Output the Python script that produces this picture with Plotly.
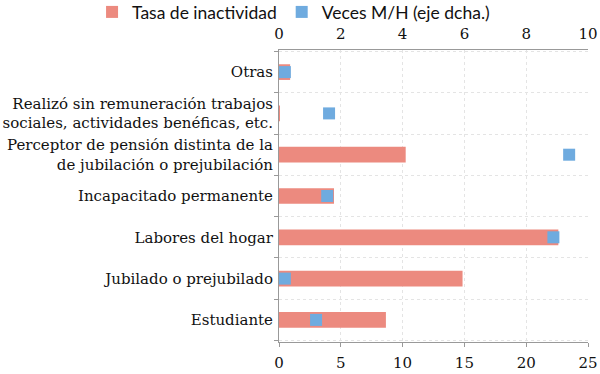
import plotly.graph_objects as go

categories = [
    "Estudiante",
    "Jubilado o prejubilado",
    "Labores del hogar",
    "Incapacitado permanente",
    "Perceptor de pensión distinta de la<br>de jubilación o prejubilación",
    "Realizó sin remuneración trabajos<br>sociales, actividades benéficas, etc.",
    "Otras",
]
tasa_inactividad = [8.65, 14.85, 22.6, 4.45, 10.25, 0.05, 0.9]
veces_mh = [1.2, 0.19, 8.88, 1.56, 9.39, 1.62, 0.19]

bottom_ticks = [0, 5, 10, 15, 20, 25]
top_ticks = [0, 2, 4, 6, 8, 10]

bar_color = "#EC8A7F"
marker_color = "#6FABDF"
serif = "DejaVu Serif"
sans = "Lato"

fig = go.Figure()
fig.add_trace(go.Bar(
    y=categories, x=tasa_inactividad, orientation="h",
    name="Tasa de inactividad", marker=dict(color=bar_color, line=dict(width=0)),
    xaxis="x",
))
fig.add_trace(go.Scatter(
    y=categories, x=veces_mh, mode="markers",
    name="Veces M/H (eje dcha.)",
    marker=dict(symbol="square", size=12, color=marker_color),
    xaxis="x2", cliponaxis=False,
))

fig.update_layout(
    width=600, height=374,
    margin=dict(l=279, r=12, t=50, b=32, autoexpand=False),
    paper_bgcolor="white", plot_bgcolor="white",
    bargap=0.62,
    showlegend=True,
    legend=dict(
        orientation="h", xref="paper", yref="paper",
        x=-0.605, xanchor="left", y=1.13, yanchor="middle",
        font=dict(family=sans, size=17.5, color="#111"),
        itemclick=False, traceorder="normal",
        bgcolor="rgba(0,0,0,0)",
    ),
    xaxis=dict(
        range=[0, 25], tickvals=bottom_ticks, ticktext=[str(v) for v in bottom_ticks],
        showgrid=True, gridcolor="#E4E4E4", griddash="dot", gridwidth=1,
        showline=True, linecolor="#999", linewidth=1,
        ticks="outside", ticklen=4, tickcolor="#999",
        tickfont=dict(family=serif, size=15, color="#111"),
        ticklabelstandoff=3,
        zeroline=False, fixedrange=True,
    ),
    xaxis2=dict(
        range=[0, 10], tickvals=top_ticks, ticktext=[str(v) for v in top_ticks],
        overlaying="x", side="top", anchor="y",
        showgrid=False, showline=True, linecolor="#999", linewidth=1,
        ticks="", tickfont=dict(family=serif, size=15, color="#111"),
        ticklabelstandoff=4,
        zeroline=False, fixedrange=True,
    ),
    yaxis=dict(
        type="category", categoryorder="array", categoryarray=categories,
        tickson="boundaries", ticks="outside", ticklen=4, tickcolor="#999",
        showgrid=True, gridcolor="#E4E4E4", griddash="dot", gridwidth=1,
        showline=True, linecolor="#999", linewidth=1,
        tickfont=dict(family=serif, size=15, color="#111"),
        ticklabelstandoff=2, fixedrange=True,
    ),
)

fig.write_html("out.html", config={"displayModeBar": False},
               post_script="document.body.style.margin='0';")
